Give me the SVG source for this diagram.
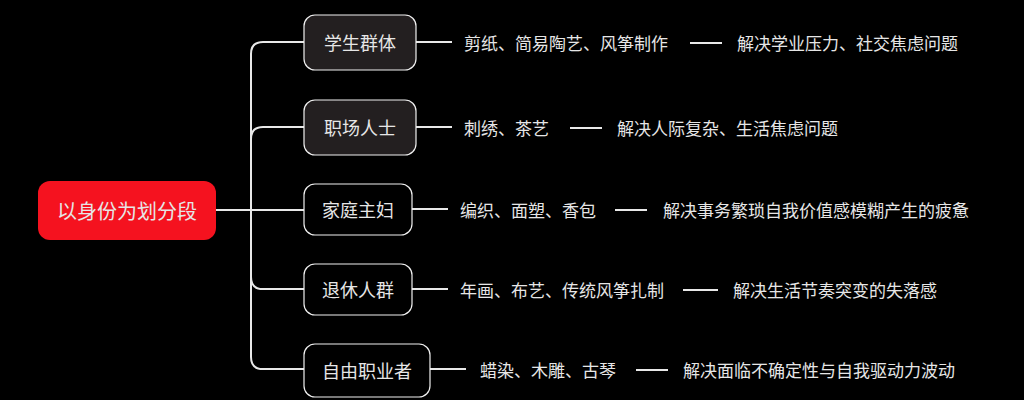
<svg xmlns="http://www.w3.org/2000/svg" width="1024" height="400" viewBox="0 0 1024 400">
<style>
text{font-family:"Noto Sans CJK SC",sans-serif;fill:#e6e6e6;dominant-baseline:central}
.n{fill:#231f20;stroke:#f0f0f0;stroke-width:1.2}
.b{fill:#000;stroke:#f0f0f0;stroke-width:1.2}
.l{fill:none;stroke:#e8e8e8;stroke-width:2}
.lb{font-size:18px;text-anchor:middle}
.t{font-size:17px}
</style>
<rect width="1024" height="400" fill="#000"/>
<g id="connectors">
<path class="l" d="M216 210H304"/>
<path class="l" d="M304 42H263Q251 42 251 54V357Q251 369 263 369H304"/>
<path class="l" d="M251 139Q251 127 263 127H304"/>
<path class="l" d="M251 277Q251 289 263 289H304"/>
<path class="l" d="M416 42H452M416 127H452M412 209H448M412 289H448M430 369H466"/>
<path class="l" d="M690 43H722M570 128H602M615 210H647M683 290H718M636 370H668"/>
</g>
<g id="root"><rect x="38" y="181" width="178" height="59" rx="12" fill="#f5121f"/><text x="127" y="210" style="font-size:20px;text-anchor:middle">以身份为划分段</text></g>
<g id="n1"><rect class="n" x="304" y="15" width="112" height="55" rx="11"/><text class="lb" x="360" y="42">学生群体</text></g>
<g id="n2"><rect class="n" x="304" y="100" width="112" height="55" rx="11"/><text class="lb" x="360" y="127">职场人士</text></g>
<g id="n3"><rect class="b" x="304" y="184" width="108" height="51" rx="11"/><text class="lb" x="358" y="209">家庭主妇</text></g>
<g id="n4"><rect class="b" x="304" y="264" width="108" height="51" rx="11"/><text class="lb" x="358" y="289">退休人群</text></g>
<g id="n5"><rect class="b" x="304" y="344" width="126" height="53" rx="11"/><text class="lb" x="367" y="370">自由职业者</text></g>
<g id="d1"><text class="t" x="464" y="42">剪纸、简易陶艺、风筝制作</text><text class="t" x="737" y="42">解决学业压力、社交焦虑问题</text></g>
<g id="d2"><text class="t" x="464" y="127">刺绣、茶艺</text><text class="t" x="617" y="127">解决人际复杂、生活焦虑问题</text></g>
<g id="d3"><text class="t" x="460" y="209">编织、面塑、香包</text><text class="t" x="663" y="209">解决事务繁琐自我价值感模糊产生的疲惫</text></g>
<g id="d4"><text class="t" x="460" y="289">年画、布艺、传统风筝扎制</text><text class="t" x="733" y="289">解决生活节奏突变的失落感</text></g>
<g id="d5"><text class="t" x="480" y="369">蜡染、木雕、古琴</text><text class="t" x="683" y="369">解决面临不确定性与自我驱动力波动</text></g>
</svg>
